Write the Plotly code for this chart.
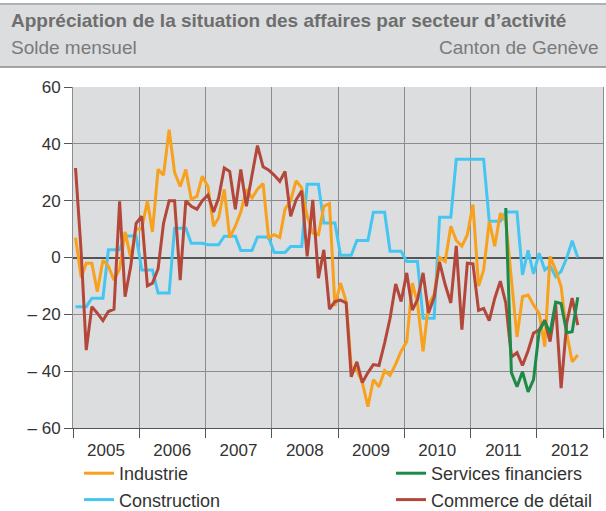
import plotly.graph_objects as go

# ---------------- data ----------------
years = [2005, 2006, 2007, 2008, 2009, 2010, 2011, 2012]
year_labels = [str(y) for y in years]
months = [f"{y}-{m:02d}-15" for y in years for m in range(1, 13)][:92]

industrie = [
    7, -7, -2, -2, -12, -1, -3, -8, -4, 9, 0, 10,
    10, 20, 9, 31, 29, 45, 30, 25, 31, 20.5, 21.5, 28.6,
    25, 11, 14, 24, 7, 11, 16, 24, 21, 24, 26, 7,
    8, 7, 17, 20, 27, 24.5, 14.5, 8.6, 8, 18, 19, -17,
    -9, -15.5, -38.5, -39.6, -44, -52.5, -43, -45.5, -39.8, -41.5, -37.5, -33,
    -29.6, -9, -16, -33, -16.5, -13, 0, -1.4, 11, 6, 4, 8,
    18.6, -10, -4.4, 12.7, 4, 15.6, 12.7, -6.7, -28, -13.8, -13.2, -16.7,
    -19.6, -31.4, 0.4, -4.4, -10.2, -26.7, -36.7, -34.3,
]

construction = [
    -17.3, -17.3, -17.3, -14.3, -14.3, -14.3, 2.7, 2.7, 2.7, 7.6, 7.6, 7.6,
    -4.4, -4.4, -4.4, -12.5, -12.5, -12.5, 10.3, 10.3, 10.3, 5, 5, 5,
    4.5, 4.5, 4.5, 7.5, 7.5, 7.5, 2.5, 2.5, 2.5, 7.2, 7.2, 7.2,
    1.8, 1.8, 1.8, 3.9, 3.9, 3.9, 25.8, 25.8, 25.8, 12.1, 12.1, 12.1,
    0.8, 0.8, 0.8, 6, 6, 6, 15.9, 15.9, 15.9, 2.2, 2.2, 2.2,
    -1.4, -1.4, -1.4, -21.4, -21.4, -21.4, 14.2, 14.2, 14.2, 34.6, 34.6, 34.6,
    34.6, 34.6, 34.6, 12.8, 12.8, 12.8, 16, 16, 16, -6.1, 2.5, -5.8,
    1.5, -4.4, -2.9, -6.7, -4.9, -0.2, 5.9, 0,
]

services = [None] * 78 + [
    17.4, -40.5, -45.5, -40.2, -47.3, -43,
    -26, -22.3, -26.7, -15.7, -16.2, -26.5, -26.1, -14,
]

commerce = [
    31.5, 2, -32.6, -17.3, -19.6, -22.2, -19, -18.2, 19.8, -13.8, -3.2, 12,
    14.5, -10, -9, -4, 12, 20, 20, -8, 20, 18, 17, 20,
    22, 16, 21, 31.5, 30.3, 17, 31, 18, 29, 39.4, 31.9, 30.8,
    29, 26.8, 30.3, 14.5, 20.3, 23.5, 0.4, 20.3, -7.3, 2.7, -18.2, -15.5,
    -15, -16, -42, -36.7, -44, -40.5, -37.7, -38, -30.1, -21.4, -9.3, -15.5,
    -5.4, -18.5, -14.9, -5.4, -19.5, -14, -1.6, -9.6, -16, 4.1, -25.4, -2,
    -2.2, -18.6, -17.9, -22.2, -14.4, -8.3, -16, -35, -33.5, -38, -32.8, -26.6,
    -25.5, -22, -29.6, -16.6, -46, -23, -14.3, -23.8,
]

y_ticks = [-60, -40, -20, 0, 20, 40, 60]
y_ticktext = ["\u2013 60", "\u2013 40", "\u2013 20", "0", "20", "40", "60"]

# ---------------- styling ----------------
W, H = 606, 511
ML, MR, MT, MB = 73, 3, 87, 83
PW, PH = W - ML - MR, H - MT - MB

def px_x(x):
    return (x - ML) / PW

def px_y(y):
    return (H - MB - y) / PH

FONT = "Liberation Sans, Arial, Helvetica, sans-serif"
BG = "#dcdddf"
GRID = "#8c8c8c"

C_IND = "#f7a11c"
C_CON = "#45c6f0"
C_SER = "#1b8b47"
C_COM = "#b3473a"

fig = go.Figure()

def add(name, y, color, legend, group, rank):
    fig.add_trace(go.Scatter(
        x=months, y=y, name=name, mode="lines",
        line=dict(color=color, width=3),
        connectgaps=False, legend=legend, legendgroup=group,
        legendrank=rank, hoverinfo="skip",
    ))

add("Construction", construction, C_CON, "legend", "b", 2)
add("Industrie", industrie, C_IND, "legend", "a", 1)
add("Commerce de détail", commerce, C_COM, "legend2", "d", 2)
add("Services financiers", services, C_SER, "legend2", "c", 1)

LEG_FONT = dict(size=18, color="#333333", family=FONT)

fig.update_layout(
    width=W, height=H,
    margin=dict(l=ML, r=MR, t=MT, b=MB, pad=0, autoexpand=False),
    paper_bgcolor="white",
    plot_bgcolor=BG,
    font=dict(family=FONT, color="#333333", size=17),
    showlegend=True,
    legend=dict(
        x=px_x(79), y=px_y(455), xanchor="left", yanchor="top",
        orientation="v", traceorder="grouped", tracegroupgap=0,
        font=LEG_FONT, bgcolor="rgba(0,0,0,0)", maxheight=200,
    ),
    legend2=dict(
        x=px_x(391), y=px_y(455), xanchor="left", yanchor="top",
        orientation="v", traceorder="grouped", tracegroupgap=0,
        font=LEG_FONT, bgcolor="rgba(0,0,0,0)", maxheight=200,
    ),
    xaxis=dict(
        type="date",
        range=["2005-01-01", "2013-01-01"],
        tickmode="array",
        tickvals=[f"{y}-07-02" for y in years],
        ticktext=year_labels,
        ticks="outside", ticklen=7, tickcolor="rgba(0,0,0,0)",
        showgrid=False,
        minor=dict(
            tick0="2005-01-01", dtick="M12",
            showgrid=True, gridcolor=GRID, gridwidth=1,
            ticks="outside", ticklen=9, tickcolor="#555555", tickwidth=1,
        ),
        showline=True, linecolor="#555555", linewidth=1,
        tickfont=dict(size=17, color="#333333"),
        fixedrange=True,
    ),
    yaxis=dict(
        range=[-60, 60],
        tickmode="array", tickvals=y_ticks, ticktext=y_ticktext,
        ticks="outside", ticklen=8, tickcolor="#555555",
        showgrid=True, gridcolor=GRID, gridwidth=1,
        zeroline=True, zerolinecolor="#555555", zerolinewidth=1.5,
        showline=True, linecolor="#8c8c8c", linewidth=1, mirror=True,
        tickfont=dict(size=17, color="#333333"),
        fixedrange=True,
    ),
)

# header band
fig.add_shape(type="rect", xref="paper", yref="paper",
              x0=px_x(0), x1=px_x(W), y0=px_y(67), y1=px_y(4),
              fillcolor=BG, line=dict(width=0), layer="below")
fig.add_shape(type="line", xref="paper", yref="paper",
              x0=px_x(0), x1=px_x(W), y0=px_y(4), y1=px_y(4),
              line=dict(color="#b0b0b0", width=2))
fig.add_shape(type="line", xref="paper", yref="paper",
              x0=px_x(0), x1=px_x(W), y0=px_y(67), y1=px_y(67),
              line=dict(color="#8a8a8a", width=1.5))

fig.add_annotation(xref="paper", yref="paper", x=px_x(9), y=px_y(21),
                   xanchor="left", yanchor="middle", showarrow=False,
                   text="<b>Appréciation de la situation des affaires par secteur d’activité</b>",
                   font=dict(size=19, color="#6e6e6e", family=FONT))
fig.add_annotation(xref="paper", yref="paper", x=px_x(9), y=px_y(47),
                   xanchor="left", yanchor="middle", showarrow=False,
                   text="Solde mensuel",
                   font=dict(size=19, color="#7a7a7a", family=FONT))
fig.add_annotation(xref="paper", yref="paper", x=px_x(601), y=px_y(47),
                   xanchor="right", yanchor="middle", showarrow=False,
                   text="Canton de Genève",
                   font=dict(size=19, color="#7a7a7a", family=FONT))

fig.write_html(
    "out.html",
    config={"displayModeBar": False},
    post_script="document.body.style.margin='0px';document.body.style.overflow='hidden';",
)
